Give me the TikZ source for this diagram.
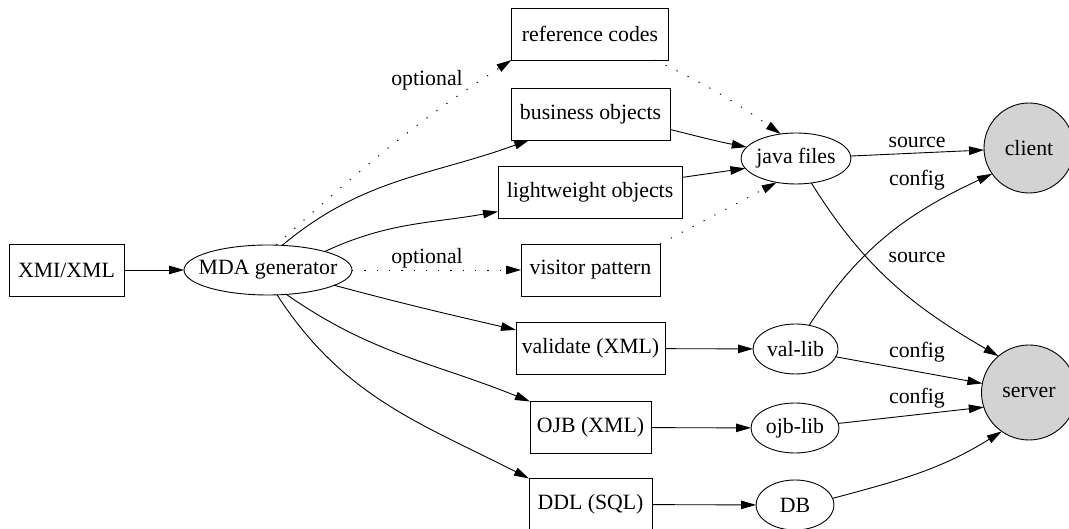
\documentclass[tikz,border=0pt]{standalone}
\usepackage{fontspec}
\setmainfont{Liberation Serif}
\usetikzlibrary{shapes.geometric,arrows.meta}
\definecolor{nodegray}{RGB}{211,211,211}
% text inside ellipses must not widen them
\newcommand\ovaltext[1]{\makebox[0pt]{#1}}
\begin{document}
\begin{tikzpicture}[x=1pt,y=1pt,
  font=\fontsize{21.8}{24}\selectfont,
  every node/.style={inner sep=0pt, outer sep=0pt},
  box/.style={draw, line width=0.9pt, rectangle, minimum height=52pt},
  oval/.style={draw, line width=0.9pt, ellipse, minimum height=50pt},
  hub/.style={draw, line width=0.9pt, circle, fill=nodegray},
  link/.style={line width=0.9pt, -{Triangle[length=15pt,width=8.5pt]}},
  opt/.style={link, dash pattern=on 1.3pt off 11pt}]
\useasboundingbox (0,0) rectangle (1069,529);
\fill[white] (0,0) rectangle (1069,529);
\clip (0,0) rectangle (1069,529);

% nodes
\node[box, minimum width=115pt] (xmi) at (66.5,259) {XMI/XML};
\node[oval, minimum width=168pt] (mda) at (268,259) {\ovaltext{MDA generator}};
\node[box, minimum width=157pt] (refc) at (590,495) {reference codes};
\node[box, minimum width=159pt] (bus) at (590.5,415) {business objects};
\node[box, minimum width=184pt] (light) at (590,337) {lightweight objects};
\node[box, minimum width=139pt] (visit) at (590.5,259) {visitor pattern};
\node[box, minimum width=149pt] (valid) at (590.5,180.5) {validate (XML)};
\node[box, minimum width=121pt] (ojb) at (590.5,101.5) {OJB (XML)};
\node[box, minimum width=123pt] (ddl) at (590.5,24.5) {DDL (SQL)};
\node[oval, minimum width=110pt, minimum height=51pt] (java) at (796,370.5) {\ovaltext{java files}};
\node[oval, minimum width=85pt] (vallib) at (795.5,180) {\ovaltext{val-lib}};
\node[oval, minimum width=88pt] (ojblib) at (795,101) {\ovaltext{ojb-lib}};
\node[oval, minimum width=78pt] (db) at (795,24) {\ovaltext{DB}};
\node[hub, minimum size=90pt] (client) at (1029,381) {client};
\node[hub, minimum size=95pt] (server) at (1029,136.5) {server};

% generator outputs
\draw[link] (xmi) -- (mda);
\draw[opt] (mda.72) to[out=42,in=213] (refc.south west);
\draw[link] (mda.60) to[out=40,in=200] (bus.203);
\draw[link] (mda.18) to[out=25,in=190] (light.192);
\draw[opt] (mda) -- (visit);
\draw[link] (mda.-13) to[out=-15,in=167] (valid.166);
\draw[link] (mda.-53) to[out=-35,in=158] (ojb.north west);
\draw[link] (mda.-70) to[out=-57,in=153] (ddl.north west);

% java sources
\draw[opt] (refc.-22) to[out=-25,in=145] (java.122);
\draw[link] (bus.-11) to[out=-14,in=169] (java.167);
\draw[link] (light.9) -- (java.191);
\draw[opt] (visit.north east) -- (java.231);

% libraries
\draw[link] (valid) -- (vallib);
\draw[link] (ojb) -- (ojblib);
\draw[link] (ddl) -- (db);

% deployment
\draw[link] (java) -- (client);
\draw[link] (java.-58) to[out=-58,in=150] (server.130);
\draw[link] (vallib.60) to[out=57,in=205] (client.215);
\draw[link] (vallib.-11) -- (server.169);
\draw[link] (ojblib.6) -- (server.198);
\draw[link] (db.10) to[out=15,in=212] (server.235);

% edge labels
\node (optA) at (427,449) {optional};
\node (optB) at (427,271) {optional};
\node (srcA) at (917,387) {source};
\node (cfgA) at (917,349) {config};
\node (srcB) at (917,272) {source};
\node (cfgB) at (917,177) {config};
\node (cfgC) at (917,131) {config};
\end{tikzpicture}
\end{document}
